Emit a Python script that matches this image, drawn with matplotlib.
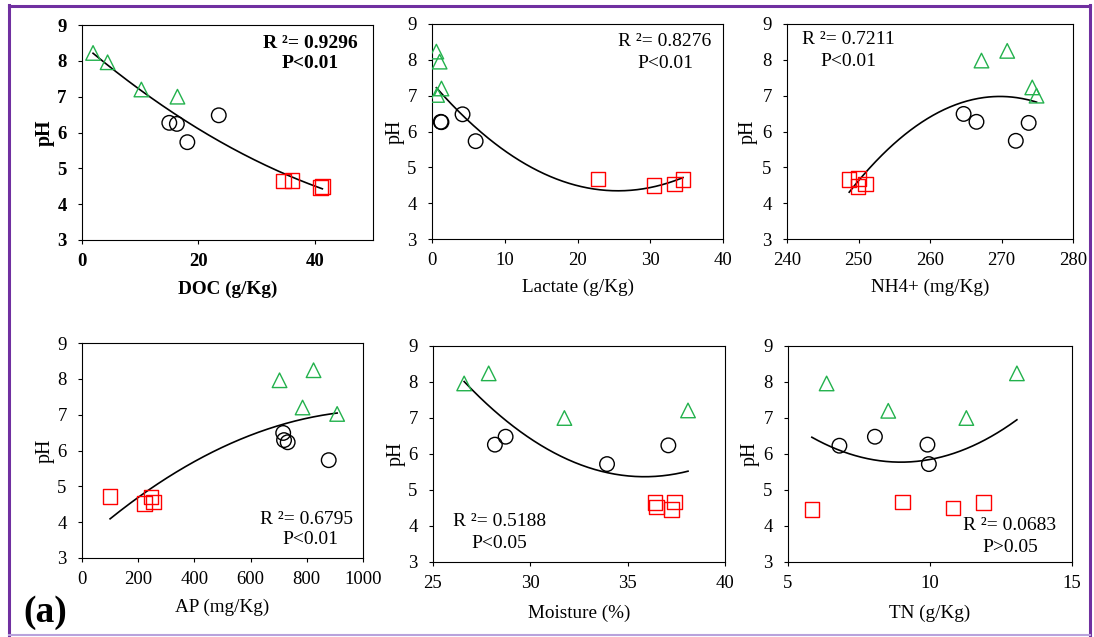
import numpy as np
import matplotlib
matplotlib.use("Agg")
import matplotlib.pyplot as plt
from matplotlib.lines import Line2D

plt.rcParams['font.family'] = ['Liberation Serif', 'DejaVu Serif']

# pH values per group (triangles, circles, squares)
ph_tri = [8.22, 7.96, 7.20, 7.00]
ph_cir = [6.27, 6.24, 5.73, 6.48]
ph_sq = [4.65, 4.66, 4.47, 4.50]

# DOC (g/Kg)
doc_tri = [1.9, 4.4, 10.2, 16.4]
doc_cir = [15.0, 16.3, 18.1, 23.5]
doc_sq = [34.6, 36.1, 41.0, 41.3]

# Lactate (g/Kg)
lac_tri_x = [0.6, 1.05, 1.3, 0.7]
lac_tri_y = [8.23, 7.95, 7.20, 7.02]
lac_cir_x = [1.3, 1.2, 6.0, 4.2]
lac_cir_y = [6.26, 6.27, 5.73, 6.48]
lac_sq_x = [22.8, 34.5, 30.5, 33.3]
lac_sq_y = [4.67, 4.66, 4.49, 4.53]

# NH4+ (mg/Kg)
nh_tri_x = [270.8, 267.2, 274.3, 274.9]
nh_tri_y = [8.25, 7.98, 7.23, 7.00]
nh_cir_x = [266.5, 273.8, 272.0, 264.7]
nh_cir_y = [6.27, 6.24, 5.74, 6.49]
nh_sq_x = [248.7, 250.0, 249.9, 251.0]
nh_sq_y = [4.66, 4.69, 4.46, 4.53]

# AP (mg/Kg)
ap_tri_x = [824, 703, 785, 908]
ap_tri_y = [8.24, 7.96, 7.20, 7.02]
ap_cir_x = [719, 732, 878, 716]
ap_cir_y = [6.29, 6.23, 5.73, 6.49]
ap_sq_x = [100, 245, 222, 254]
ap_sq_y = [4.71, 4.70, 4.52, 4.56]

# Moisture (%)
mo_tri_x = [27.86, 26.6, 38.1, 31.75]
mo_tri_y = [8.24, 7.96, 7.21, 7.00]
mo_cir_x = [28.18, 37.09, 33.94, 28.73]
mo_cir_y = [6.26, 6.24, 5.72, 6.48]
mo_sq_x = [36.4, 37.4, 37.26, 36.49]
mo_sq_y = [4.65, 4.67, 4.46, 4.53]

# TN (g/Kg)
tn_tri_x = [13.06, 6.36, 8.53, 11.28]
tn_tri_y = [8.24, 7.96, 7.20, 7.00]
tn_cir_x = [6.81, 9.91, 9.96, 8.06]
tn_cir_y = [6.23, 6.26, 5.72, 6.48]
tn_sq_x = [5.84, 9.04, 10.81, 11.89]
tn_sq_y = [4.46, 4.67, 4.50, 4.66]

panels = [
    dict(tri=(doc_tri, ph_tri), cir=(doc_cir, ph_cir), sq=(doc_sq, ph_sq),
         xlim=(0, 50), xticks=[0, 20, 40], xlabel="DOC (g/Kg)",
         r2="R ²= 0.9296", p="P<0.01", bold=True,
         box=(82, 373, 25, 240), txt=(310, 43, 310, 64), xl_y=289, yl_x=45),
    dict(tri=(lac_tri_x, lac_tri_y), cir=(lac_cir_x, lac_cir_y), sq=(lac_sq_x, lac_sq_y),
         xlim=(0, 40), xticks=[0, 10, 20, 30, 40], xlabel="Lactate (g/Kg)",
         r2="R ²= 0.8276", p="P<0.01", bold=False,
         box=(432, 723, 24, 239), txt=(665, 42, 665, 63), xl_y=287, yl_x=395),
    dict(tri=(nh_tri_x, nh_tri_y), cir=(nh_cir_x, nh_cir_y), sq=(nh_sq_x, nh_sq_y),
         xlim=(240, 280), xticks=[240, 250, 260, 270, 280], xlabel="NH4+ (mg/Kg)",
         r2="R ²= 0.7211", p="P<0.01", bold=False,
         box=(787, 1073, 24, 239), txt=(848, 39, 848, 61), xl_y=287, yl_x=748),
    dict(tri=(ap_tri_x, ap_tri_y), cir=(ap_cir_x, ap_cir_y), sq=(ap_sq_x, ap_sq_y),
         xlim=(0, 1000), xticks=[0, 200, 400, 600, 800, 1000], xlabel="AP (mg/Kg)",
         r2="R ²= 0.6795", p="P<0.01", bold=False,
         box=(82, 363, 343, 558), txt=(307, 519, 310, 540), xl_y=607, yl_x=45),
    dict(tri=(mo_tri_x, mo_tri_y), cir=(mo_cir_x, mo_cir_y), sq=(mo_sq_x, mo_sq_y),
         xlim=(25, 40), xticks=[25, 30, 35, 40], xlabel="Moisture (%)",
         r2="R ²= 0.5188", p="P<0.05", bold=False,
         box=(433, 725, 346, 562), txt=(500, 522, 499, 543), xl_y=613, yl_x=396),
    dict(tri=(tn_tri_x, tn_tri_y), cir=(tn_cir_x, tn_cir_y), sq=(tn_sq_x, tn_sq_y),
         xlim=(5, 15), xticks=[5, 10, 15], xlabel="TN (g/Kg)",
         r2="R ²= 0.0683", p="P>0.05", bold=False,
         box=(788, 1072, 346, 562), txt=(1010, 525, 1010, 547), xl_y=613, yl_x=750),
]

W, H = 1094, 637
fig = plt.figure(figsize=(W / 100, H / 100), dpi=100)

GREEN = "#22B14C"
RED = "#FF0000"
TICK_FS = 13.5
LAB_FS = 13.8
ANN_FS = 14

for pn in panels:
    l, r, t, b = pn["box"]
    ax = fig.add_axes([l / W, 1 - b / H, (r - l) / W, (b - t) / H])
    fw = "bold" if pn["bold"] else "normal"
    ax.scatter(*pn["tri"], marker="^", s=110, facecolors="none", edgecolors=GREEN, linewidths=1.0, zorder=3)
    ax.scatter(*pn["cir"], marker="o", s=110, facecolors="none", edgecolors="black", linewidths=1.0, zorder=3)
    ax.scatter(*pn["sq"], marker="s", s=110, facecolors="none", edgecolors=RED, linewidths=1.0, zorder=3)
    # quadratic trend line from all points
    xs = np.concatenate([pn["tri"][0], pn["cir"][0], pn["sq"][0]]).astype(float)
    ys = np.concatenate([pn["tri"][1], pn["cir"][1], pn["sq"][1]]).astype(float)
    c = np.polyfit(xs, ys, 2)
    xx = np.linspace(xs.min(), xs.max(), 200)
    ax.plot(xx, np.polyval(c, xx), color="black", lw=1.2, zorder=2)
    ax.set_xlim(*pn["xlim"])
    ax.set_ylim(3, 9)
    ax.set_xticks(pn["xticks"])
    ax.set_yticks(range(3, 10))
    ax.tick_params(direction="out", length=3, width=0.8, labelsize=TICK_FS)
    ax.tick_params(axis="x", pad=6.5)
    ax.tick_params(axis="y", pad=8)
    for lab in ax.get_xticklabels() + ax.get_yticklabels():
        lab.set_fontweight(fw)
    for s in ax.spines.values():
        s.set_linewidth(0.8)
    fig.text(((l + r) / 2) / W, 1 - pn["xl_y"] / H, pn["xlabel"], ha="center", va="center",
             fontsize=LAB_FS, fontweight=fw)
    fig.text(pn["yl_x"] / W, 1 - ((t + b) / 2) / H, "pH", ha="center", va="center",
             rotation=90, fontsize=LAB_FS + 0.5, fontweight=fw)
    x1, y1, x2, y2 = pn["txt"]
    fig.text(x1 / W, 1 - y1 / H, pn["r2"], ha="center", va="center", fontsize=ANN_FS, fontweight=fw)
    fig.text(x2 / W, 1 - y2 / H, pn["p"], ha="center", va="center", fontsize=ANN_FS, fontweight=fw)

fig.text(45 / W, 1 - 612 / H, "(a)", ha="center", va="center", fontsize=27, fontweight="bold")

# purple frame
DARK = "#7030A0"
LIGHT = "#B8A2DC"
fig.add_artist(Line2D([9 / W, 9 / W], [1 - 5 / H, 1 - 635 / H], color=DARK, lw=2.2, transform=fig.transFigure))
fig.add_artist(Line2D([1090 / W, 1090 / W], [1 - 5 / H, 1 - 635 / H], color=DARK, lw=2.2, transform=fig.transFigure))
fig.add_artist(Line2D([9 / W, 1090 / W], [1 - 6 / H, 1 - 6 / H], color=DARK, lw=2.2, transform=fig.transFigure))
fig.add_artist(Line2D([9 / W, 1090 / W], [1 - 635 / H, 1 - 635 / H], color=LIGHT, lw=1.5, transform=fig.transFigure))

fig.savefig("out.png", dpi=100)
